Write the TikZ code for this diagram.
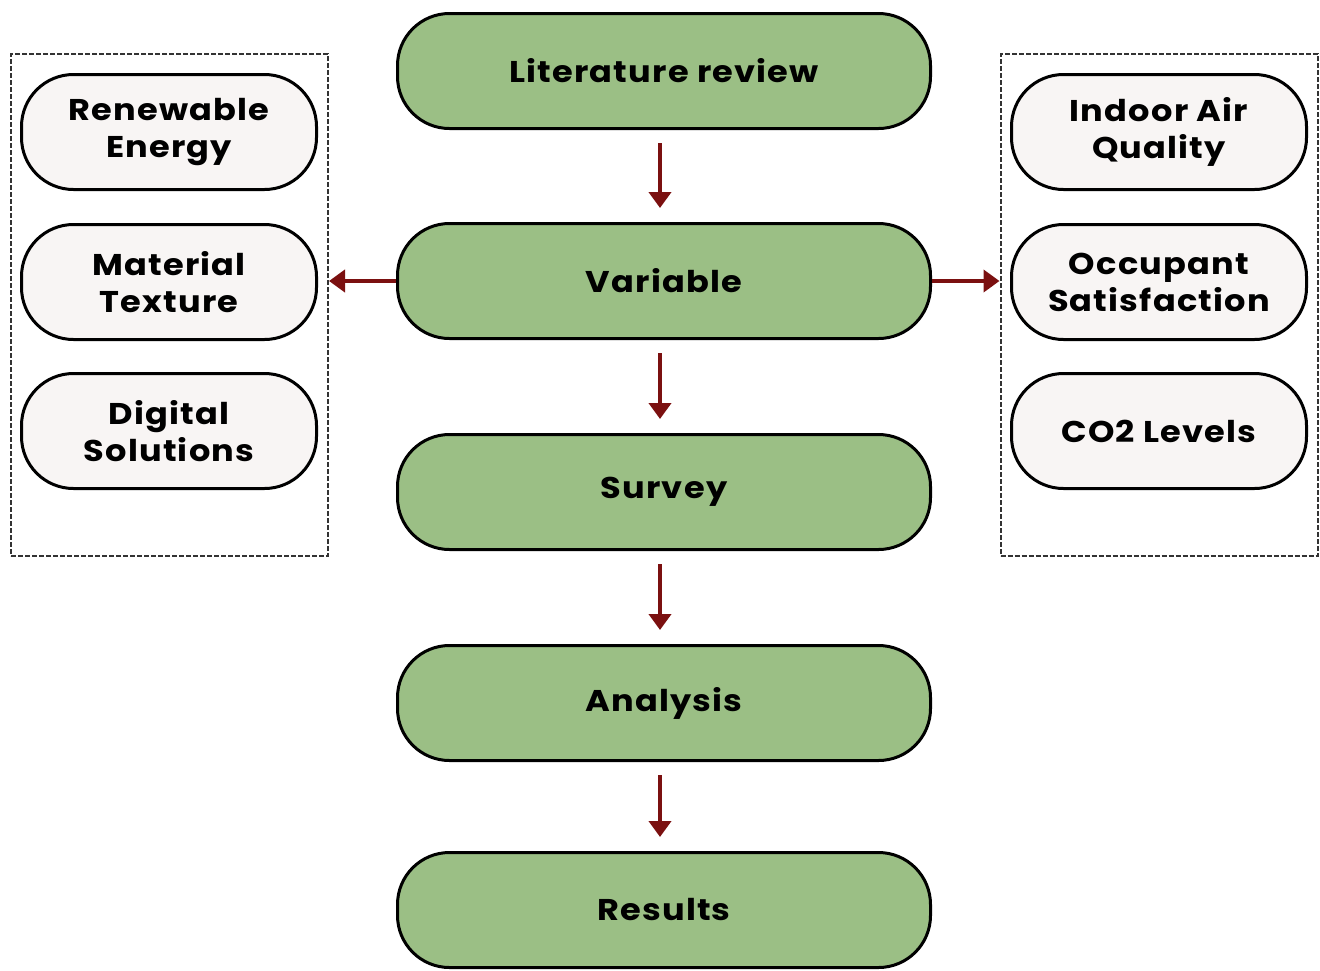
\documentclass[tikz,border=0pt]{standalone}
\usepackage{fontspec}
\setmainfont{Poppins}
\usetikzlibrary{arrows.meta}
\definecolor{mgreen}{HTML}{9BBF85}
\definecolor{mwhite}{HTML}{F8F5F4}
\definecolor{mred}{HTML}{7B1010}
\tikzset{
  mainbox/.style={draw=black, line width=3pt, fill=mgreen, rounded corners=52pt,
    minimum width=533pt, minimum height=115pt, inner sep=0pt,
    font=\fontsize{30}{37}\selectfont\bfseries\addfontfeatures{FakeStretch=1.12,LetterSpace=4}},
  sidebox/.style={draw=black, line width=3pt, fill=mwhite, rounded corners=52pt,
    minimum width=295pt, minimum height=115pt, inner sep=0pt, align=center,
    font=\fontsize{30}{37}\selectfont\bfseries\addfontfeatures{FakeStretch=1.12,LetterSpace=4}},
  dashbox/.style={draw=black!80, line width=2pt, dash pattern=on 5pt off 2pt,
    minimum width=317pt, minimum height=502pt, inner sep=0pt},
  arr/.style={draw=mred, line width=4pt, -{Triangle[length=16pt,width=22pt]}}
}
\begin{document}
\begin{tikzpicture}[x=1pt,y=-1pt]
\useasboundingbox (0,0) rectangle (1320,970);
\node[dashbox] (lbox) at (169.5,305) {};
\node[dashbox] (rbox) at (1159,305) {};
\node[mainbox] (lit) at (664,71) {Literature review};
\node[mainbox] (var) at (664,281) {Variable};
\node[mainbox] (sur) at (664,492) {Survey};
\node[mainbox] (ana) at (664,703) {Analysis};
\node[mainbox] (res) at (664,910) {Results};
\node[sidebox] (ren) at (169,132) {Renewable\\Energy};
\node[sidebox] (mat) at (169,282) {Material\\Texture};
\node[sidebox] (dig) at (169,431) {Digital\\Solutions};
\node[sidebox] (iaq) at (1159,132) {Indoor Air\\Quality};
\node[sidebox] (occ) at (1159,282) {Occupant\\Satisfaction};
\node[sidebox] (co2) at (1159,431) {CO2 Levels};
\draw[arr] ([xshift=-4pt,yshift=-13pt]lit.south) -- ([xshift=-4pt,yshift=14pt]var.north);
\draw[arr] ([xshift=-4pt,yshift=-13pt]var.south) -- ([xshift=-4pt,yshift=14pt]sur.north);
\draw[arr] ([xshift=-4pt,yshift=-13pt]sur.south) -- ([xshift=-4pt,yshift=14pt]ana.north);
\draw[arr] ([xshift=-4pt,yshift=-13pt]ana.south) -- ([xshift=-4pt,yshift=14pt]res.north);
\draw[arr] (var.west) -- (lbox.east |- var.west);
\draw[arr] (var.east) -- (rbox.west |- var.east);
\end{tikzpicture}
\end{document}
